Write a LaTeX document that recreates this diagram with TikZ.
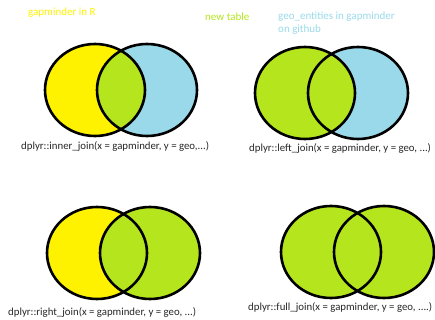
\documentclass[tikz,border=0pt]{standalone}
\usepackage{fontspec}
\setmainfont{Carlito}
\usepackage{tikz}
\usetikzlibrary{positioning}

\definecolor{gmyellow}{HTML}{FFF200}
\definecolor{geoblue}{HTML}{99D9EA}
\definecolor{newgreen}{HTML}{B5E61D}

% one venn: left x, right x, y, left colour, right colour
\newcommand{\joinvenn}[5]{%
    \fill[#4] (#1,#3) ellipse [x radius=50, y radius=46];
    \fill[#5] (#2,#3) ellipse [x radius=50, y radius=46];
    \begin{scope}
        \clip (#1,#3) ellipse [x radius=50, y radius=46];
        \fill[newgreen] (#2,#3) ellipse [x radius=50, y radius=46];
    \end{scope}
    \draw[ring] (#1,#3) ellipse [x radius=50, y radius=46];
    \draw[ring] (#2,#3) ellipse [x radius=50, y radius=46];
}

\begin{document}
\begin{tikzpicture}[x=1pt, y=-1pt]
    \tikzstyle{ring} = [line width=2.6pt, draw=black]
    \tikzstyle{caption} = [font=\fontsize{10.8}{12}\selectfont, text=black!85, inner sep=0pt]
    \tikzstyle{legend} = [font=\fontsize{11}{13}\selectfont, inner sep=0pt, anchor=west, align=left]

    \useasboundingbox (0,0) rectangle (435,320);

    \joinvenn{95}{147}{90}{gmyellow}{geoblue}
    \joinvenn{305}{358}{93}{newgreen}{geoblue}
    \joinvenn{97}{150}{253}{gmyellow}{newgreen}
    \joinvenn{331}{384}{252}{newgreen}{newgreen}

    \node (gmR) [legend, text=gmyellow] at (28,13) {gapminder in R};
    \node (newtab) [legend, text=newgreen] at (205,17) {new table};
    \node (geoent) [legend, text=geoblue] at (278,23) {geo\_entities in gapminder\\on github};

    \node (inner) [caption, anchor=west] at (21,146) {dplyr::inner\_join(x = gapminder, y = geo,...)};
    \node (left) [caption, anchor=west] at (249,148) {dplyr::left\_join(x = gapminder, y = geo, ...)};
    \node (right) [caption, anchor=west] at (8,312) {dplyr::right\_join(x = gapminder, y = geo, ...)};
    \node (full) [caption, anchor=west] at (248,307) {dplyr::full\_join(x = gapminder, y = geo, ....)};
\end{tikzpicture}
\end{document}
